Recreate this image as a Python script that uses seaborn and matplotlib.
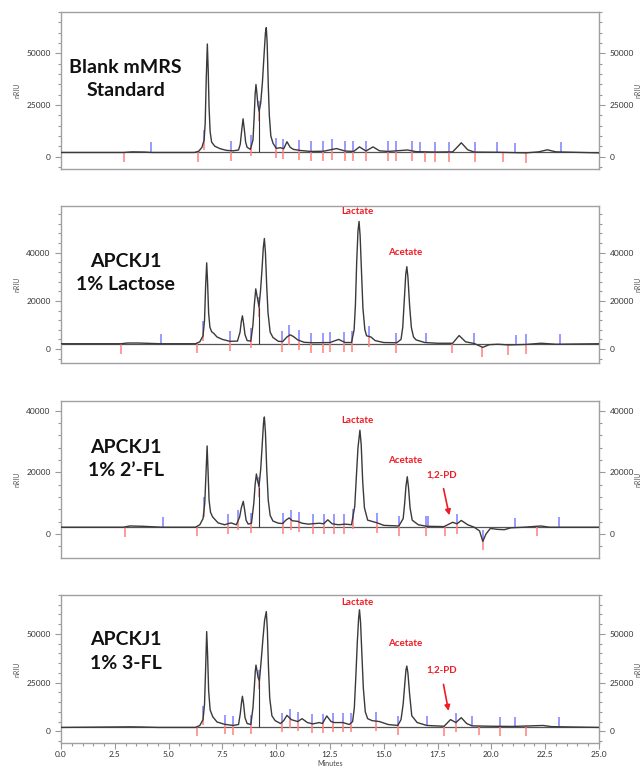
import numpy as np
import pandas as pd
import matplotlib
matplotlib.use('Agg')
import matplotlib.pyplot as plt
from matplotlib.ticker import AutoMinorLocator, MultipleLocator, FormatStrFormatter
import seaborn as sns

sns.set_style('white')
plt.rcParams['font.family'] = ['Lato', 'DejaVu Sans']

# retention time (min) / signal (nRIU)
blank_t = [0, 2.9, 3.3, 3.9, 4.2, 6.2, 6.4, 6.55, 6.65, 6.7, 6.75, 6.8, 6.84, 6.88, 6.93, 7.0, 7.15, 7.4,
           7.7, 8.0, 8.25, 8.33, 8.4, 8.46, 8.52, 8.58, 8.65, 8.8, 8.92, 8.98, 9.02, 9.06, 9.1, 9.15,
           9.21, 9.28, 9.36, 9.44, 9.5, 9.54, 9.58, 9.63, 9.68, 9.75, 9.85, 10.0, 10.2, 10.35, 10.5,
           10.65, 10.8, 11.1, 11.6, 12.2, 12.8, 13.2, 13.6, 13.87, 14.17, 14.5, 14.8, 15.2, 16.1, 16.5,
           17.4, 18.2, 18.45, 18.6, 18.75, 18.9, 19.2, 20.3, 21.6, 22.2, 22.6, 23.0, 25]
blank_y = [2000, 2000, 2300, 2200, 2000, 2000, 2600, 4500, 8000, 16000, 38000, 54500, 42000, 24000,
           12000, 7000, 5000, 3800, 3000, 2800, 3200, 6000, 13000, 18300, 13000, 7000, 4500, 3500, 8000,
           20000, 30000, 34900, 31000, 25000, 22000, 26000, 36000, 50000, 60000, 62400, 55000, 35000,
           20000, 10000, 6500, 4000, 4300, 3800, 7200, 4500, 3500, 3000, 2500, 2600, 3900, 2700, 2500,
           4700, 2700, 4700, 2800, 2500, 3200, 2400, 2200, 2300, 5000, 6700, 5000, 3300, 2200, 2100,
           1800, 2300, 3300, 2300, 1800]

lact_t = [0, 2.8, 3.1, 3.6, 4.6, 6.25, 6.45, 6.6, 6.67, 6.72, 6.77, 6.81, 6.86, 6.92, 7.0, 7.1, 7.25,
          7.5, 7.85, 8.2, 8.32, 8.38, 8.43, 8.48, 8.55, 8.65, 8.82, 8.92, 8.98, 9.05, 9.1, 9.2, 9.27,
          9.34, 9.4, 9.45, 9.5, 9.56, 9.62, 9.72, 9.85, 10.1, 10.3, 10.5, 10.65, 10.8, 11.0, 11.3, 11.7,
          12.5, 12.9, 13.2, 13.5, 13.62, 13.68, 13.74, 13.8, 13.85, 13.9, 13.96, 14.03, 14.12, 14.2,
          14.4, 14.6, 15.0, 15.6, 15.8, 15.88, 15.95, 16.02, 16.07, 16.12, 16.2, 16.28, 16.38, 16.5,
          16.9, 17.5, 18.2, 18.5, 18.8, 19.2, 19.6, 19.9, 20.3, 20.8, 21.6, 22.3, 23.0, 25]
lact_y = [2200, 2200, 2500, 2500, 2200, 2200, 3000, 5500, 12000, 26000, 35800, 28000, 15000, 9000,
          7200, 6500, 5000, 4000, 3200, 3300, 7000, 11500, 13800, 11000, 6000, 3500, 3300, 10000,
          18000, 25000, 22500, 17500, 24000, 33000, 42000, 45900, 40000, 26000, 15000, 7000, 4800,
          3200, 3100, 5000, 5900, 5200, 3800, 2800, 2600, 2700, 4000, 2700, 2700, 8000, 18000, 36000,
          49000, 53000, 47000, 33000, 17000, 8000, 5500, 5000, 3500, 2700, 2600, 4000, 9000, 20000,
          31000, 34200, 30000, 18000, 9000, 5000, 3800, 2700, 2400, 2400, 5600, 3000, 2300, 700, 1800,
          2000, 1700, 1900, 2400, 2000, 2200]

fl2_t = [0, 2.9, 3.2, 3.8, 4.7, 6.25, 6.45, 6.6, 6.68, 6.74, 6.79, 6.83, 6.88, 6.95, 7.05, 7.3, 7.6,
         7.9, 8.15, 8.3, 8.38, 8.47, 8.53, 8.6, 8.7, 8.85, 8.96, 9.02, 9.08, 9.13, 9.2, 9.28, 9.35,
         9.41, 9.45, 9.5, 9.56, 9.63, 9.72, 9.85, 10.1, 10.3, 10.45, 10.6, 10.75, 11.0, 11.2, 11.5,
         12.0, 12.2, 12.4, 12.6, 12.9, 13.2, 13.5, 13.65, 13.72, 13.8, 13.89, 13.95, 14.02, 14.1,
         14.25, 14.7, 15.0, 15.7, 15.9, 15.97, 16.03, 16.09, 16.15, 16.22, 16.32, 16.6, 17.0, 17.8,
         18.2, 18.4, 18.6, 18.9, 19.2, 19.45, 19.6, 19.75, 19.95, 20.3, 20.6, 20.9, 21.5, 22.3, 22.7, 25]
fl2_y = [2200, 2200, 2600, 2500, 2200, 2200, 3000, 5000, 10000, 20000, 28600, 21000, 11000, 7000,
         5500, 3600, 3000, 3600, 3000, 5500, 8500, 10600, 8000, 4500, 3200, 3500, 10000, 16000, 19500,
         17500, 15400, 21000, 29000, 36000, 38000, 33000, 21000, 11000, 6000, 4200, 3500, 3400, 4500,
         5200, 4300, 4100, 3500, 3200, 3500, 3300, 4600, 3300, 3000, 3200, 3000, 9000, 18000, 28000,
         33700, 29000, 17000, 8500, 4500, 3600, 2800, 2600, 5000, 10000, 15500, 18600, 15000, 8500,
         4500, 3000, 2500, 2400, 3800, 3300, 4400, 3000, 2200, 1000, -2400, 0, 1800, 1500, 1400,
         2000, 2200, 2600, 2200, 2200]

fl3_t = [0, 3.2, 3.8, 4.5, 6.25, 6.45, 6.6, 6.67, 6.72, 6.77, 6.81, 6.86, 6.93, 7.05, 7.25, 7.6, 8.0,
         8.25, 8.33, 8.39, 8.43, 8.48, 8.55, 8.65, 8.82, 8.92, 8.98, 9.03, 9.06, 9.11, 9.16, 9.22, 9.3,
         9.38, 9.46, 9.54, 9.59, 9.64, 9.7, 9.8, 9.95, 10.2, 10.35, 10.5, 10.7, 10.85, 11.0, 11.2,
         11.45, 11.7, 12.0, 12.15, 12.35, 12.55, 12.7, 13.1, 13.4, 13.55, 13.63, 13.7, 13.77, 13.83,
         13.87, 13.92, 13.98, 14.05, 14.14, 14.25, 14.45, 14.8, 15.2, 15.65, 15.8, 15.9, 15.98, 16.03,
         16.07, 16.12, 16.2, 16.3, 16.55, 17.0, 17.8, 18.1, 18.35, 18.6, 18.85, 19.1, 20.0, 21.0,
         22.4, 22.8, 25]
fl3_y = [2000, 2300, 2200, 2000, 2000, 3000, 6000, 14000, 32000, 51200, 40000, 21000, 11000, 7500,
         4800, 3600, 3000, 3500, 9000, 15000, 18000, 14500, 7000, 4000, 3500, 12000, 22000, 31000,
         34000, 31000, 27500, 26000, 36000, 47000, 57000, 61500, 52000, 33000, 17000, 8000, 5500, 4000,
         5500, 8200, 6000, 5500, 5000, 6500, 4500, 3800, 4500, 4000, 7900, 5000, 4500, 4500, 3500,
         5000, 12000, 28000, 46000, 58000, 62400, 56000, 40000, 22000, 10000, 6500, 5500, 5000, 3500,
         3000, 6000, 14000, 25000, 31500, 33500, 30000, 19000, 8000, 4500, 3000, 2600, 6000, 4500,
         7000, 4000, 2800, 2600, 2500, 3000, 2400, 2000]

# integration event marks (min)
blank_red = [2.93, 6.35, 6.65, 7.88, 8.85, 9.21, 9.98, 10.33, 11.08, 11.62, 12.19, 12.58, 13.2, 13.58,
             14.17, 15.2, 15.55, 16.33, 16.9, 17.37, 18.02, 19.23, 20.54, 21.6]
blank_blue = [4.17, 6.65, 7.88, 8.85, 9.21, 9.98, 10.33, 11.08, 11.62, 12.19, 12.58, 13.2, 13.58, 14.17,
              15.2, 15.55, 16.33, 16.67, 17.37, 18.02, 19.23, 20.26, 21.1, 23.22]
lact_red = [2.8, 6.3, 6.62, 7.86, 8.84, 9.2, 10.27, 10.61, 11.07, 11.6, 12.16, 12.52, 13.17, 13.51,
            14.31, 15.57, 18.19, 19.56, 20.76, 21.62]
lact_blue = [4.64, 6.62, 7.86, 8.84, 9.2, 10.27, 10.61, 11.07, 11.6, 12.16, 12.52, 13.17, 13.51, 14.31,
             15.57, 16.98, 19.18, 21.13, 21.62, 23.2]
fl2_red = [2.96, 6.32, 6.66, 7.77, 8.24, 8.85, 9.2, 10.3, 10.69, 11.05, 11.7, 12.21, 12.69, 13.13,
           13.55, 14.69, 15.69, 16.98, 17.84, 18.4, 19.62, 22.14]
fl2_blue = [4.73, 6.66, 7.77, 8.24, 8.85, 9.2, 10.3, 10.69, 11.05, 11.7, 12.21, 12.69, 13.13, 13.55,
            14.69, 15.69, 16.98, 17.05, 18.4, 19.62, 21.09, 23.13]
fl3_red = [6.32, 6.62, 7.61, 7.99, 8.82, 9.2, 10.27, 10.65, 11.0, 11.68, 12.16, 12.63, 13.09, 13.49,
           14.66, 15.65, 17.79, 18.36, 19.43, 20.42, 21.6]
fl3_blue = [6.62, 7.61, 7.99, 8.82, 9.2, 10.27, 10.65, 11.0, 11.68, 12.16, 12.63, 13.09, 13.49, 14.66,
            15.65, 17.0, 18.36, 19.08, 20.42, 21.1, 23.13]

titles = ['Blank mMRS\nStandard', 'APCKJ1\n1% Lactose', 'APCKJ1\n1% 2\u2019-FL', 'APCKJ1\n1% 3-FL']
baselines = [2000, 2200, 2200, 2000]
drop_t = 9.2

ylims = [(-6000, 70000), (-5800, 59400), (-7800, 43200), (-6000, 70000)]
ymajor = [25000, 20000, 20000, 25000]
# axes boxes in pixels (top, bottom) of a 643x769 canvas
boxes = [(12, 169), (206, 363), (401, 558), (595, 743)]
title_y = [37500, 31500, 24300, 41000]

traces = [(blank_t, blank_y), (lact_t, lact_y), (fl2_t, fl2_y), (fl3_t, fl3_y)]
marks = [(blank_red, blank_blue), (lact_red, lact_blue), (fl2_red, fl2_blue), (fl3_red, fl3_blue)]

W, H = 643, 769
fig = plt.figure(figsize=(W / 100, H / 100), dpi=100)

for i in range(4):
    top, bot = boxes[i]
    ax = fig.add_axes([61 / W, 1 - bot / H, 538 / W, (bot - top) / H])
    t, y = traces[i]
    df = pd.DataFrame({'Minutes': t, 'nRIU': y})
    ax.axhline(baselines[i], color='#555555', lw=0.9, zorder=1)
    sns.lineplot(data=df, x='Minutes', y='nRIU', ax=ax, color='#3a3a3a', lw=1.0,
                 estimator=None, sort=False, zorder=3)
    lo, hi = ylims[i]
    L = 0.064 * (hi - lo)
    red, blue = marks[i]
    ry = np.interp(red, t, y)
    by = np.interp(blue, t, y)
    ax.vlines(red, ry - L, ry, color='#ff7f7f', lw=1.1, zorder=2)
    ax.vlines(blue, by, by + L, color='#7f7fff', lw=1.1, zorder=2)
    ax.vlines(drop_t, baselines[i], np.interp(drop_t, t, y), color='#333333', lw=0.8, zorder=2)

    ax.set_xlim(0, 25)
    ax.set_ylim(lo, hi)
    ax.yaxis.set_major_locator(MultipleLocator(ymajor[i]))
    ax.yaxis.set_minor_locator(AutoMinorLocator(5))
    ax.yaxis.set_ticks_position('both')
    ax.tick_params(axis='y', which='both', direction='out', left=True, right=True,
                   labelleft=True, labelright=True, labelsize=6, labelcolor='#333333',
                   color='#999999', width=0.8)
    ax.tick_params(axis='y', which='major', length=4)
    ax.tick_params(axis='y', which='minor', length=2)
    for s in ax.spines.values():
        s.set_color('#a0a0a0')
        s.set_linewidth(1.0)
    ax.set_ylabel('nRIU', fontsize=5, color='#555555', labelpad=4)
    ax.text(1.066, 0.5, 'nRIU', transform=ax.transAxes, rotation=90, fontsize=5,
            color='#555555', ha='left', va='center')

    ax.text(3.0, title_y[i], titles[i], fontsize=14, fontweight='bold', ha='center',
            va='center', linespacing=1.45, color='#111111')

    if i < 3:
        ax.set_xlabel('')
        ax.tick_params(axis='x', which='both', bottom=False, labelbottom=False)
    else:
        ax.xaxis.set_major_locator(MultipleLocator(2.5))
        ax.xaxis.set_minor_locator(MultipleLocator(0.5))
        ax.xaxis.set_major_formatter(FormatStrFormatter('%.1f'))
        ax.tick_params(axis='x', which='both', bottom=True, direction='out', labelsize=6,
                       labelcolor='#333333', color='#999999', width=0.8, pad=2)
        ax.tick_params(axis='x', which='major', length=4)
        ax.tick_params(axis='x', which='minor', length=2)
        ax.set_xlabel('Minutes', fontsize=5, color='#444444', labelpad=1)

    red_kw = dict(color='#ee1c24', fontsize=7, fontweight='bold', ha='center', va='center')
    if i == 1:
        ax.text(13.75, 57000, 'Lactate', **red_kw)
        ax.text(16.0, 40000, 'Acetate', **red_kw)
    if i == 2:
        ax.text(13.75, 37000, 'Lactate', **red_kw)
        ax.text(16.0, 24000, 'Acetate', **red_kw)
        ax.text(17.7, 19200, '1,2-PD', **red_kw)
        ax.annotate('', xy=(18.07, 5200), xytext=(17.75, 15600),
                    arrowprops=dict(arrowstyle='-|>', color='#ee1c24', lw=1.2, mutation_scale=8))
    if i == 3:
        ax.text(13.75, 66000, 'Lactate', **red_kw)
        ax.text(16.0, 45200, 'Acetate', **red_kw)
        ax.text(17.7, 31400, '1,2-PD', **red_kw)
        ax.annotate('', xy=(18.03, 9100), xytext=(17.75, 25500),
                    arrowprops=dict(arrowstyle='-|>', color='#ee1c24', lw=1.2, mutation_scale=8))

fig.savefig('out.png', dpi=100)
